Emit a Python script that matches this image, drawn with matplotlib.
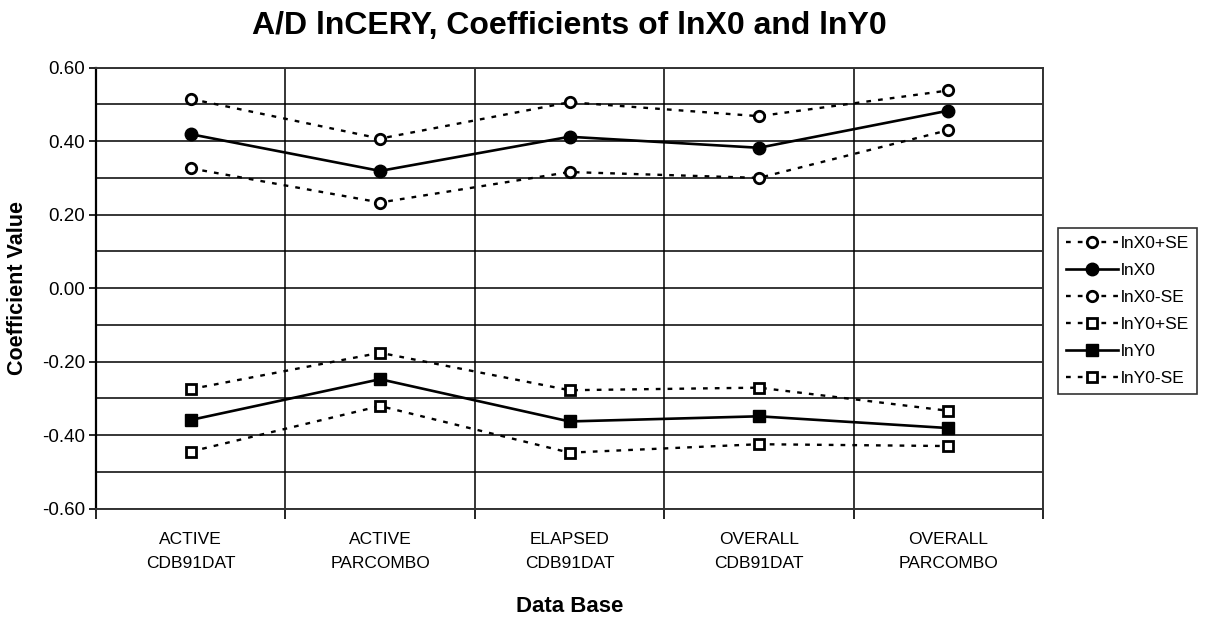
import numpy as np
import matplotlib
matplotlib.use("Agg")
import matplotlib.pyplot as plt
from matplotlib.ticker import MultipleLocator, FixedLocator

# categorias e valores
categorias = ["ACTIVE\nCDB91DAT", "ACTIVE\nPARCOMBO", "ELAPSED\nCDB91DAT",
              "OVERALL\nCDB91DAT", "OVERALL\nPARCOMBO"]
lnx0_mais_se = [0.515, 0.407, 0.506, 0.468, 0.538]
lnx0 = [0.419, 0.319, 0.412, 0.382, 0.483]
lnx0_menos_se = [0.326, 0.233, 0.316, 0.300, 0.430]
lny0_mais_se = [-0.275, -0.176, -0.278, -0.271, -0.334]
lny0 = [-0.359, -0.248, -0.363, -0.349, -0.381]
lny0_menos_se = [-0.445, -0.321, -0.448, -0.425, -0.430]

plt.rcParams['font.family'] = ['Liberation Sans', 'DejaVu Sans']

fig = plt.figure(figsize=(12.05, 6.23), dpi=100)
ax = fig.add_axes([96 / 1205, 1 - 508.5 / 623, (1043 - 96) / 1205, (508.5 - 67.7) / 623])

x = np.arange(len(categorias))
pontilhado = (0, (2, 3))

ax.plot(x, lnx0_mais_se, color="black", lw=1.7, ls=pontilhado, marker="o", ms=7.5,
        mfc="white", mec="black", mew=2, label="lnX0+SE")
ax.plot(x, lnx0, color="black", lw=1.9, ls="-", marker="o", ms=9,
        mfc="black", mec="black", label="lnX0")
ax.plot(x, lnx0_menos_se, color="black", lw=1.7, ls=pontilhado, marker="o", ms=7.5,
        mfc="white", mec="black", mew=2, label="lnX0-SE")
ax.plot(x, lny0_mais_se, color="black", lw=1.7, ls=pontilhado, marker="s", ms=7,
        mfc="white", mec="black", mew=2, label="lnY0+SE")
ax.plot(x, lny0, color="black", lw=1.9, ls="-", marker="s", ms=8.5,
        mfc="black", mec="black", label="lnY0")
ax.plot(x, lny0_menos_se, color="black", lw=1.7, ls=pontilhado, marker="s", ms=7,
        mfc="white", mec="black", mew=2, label="lnY0-SE")

ax.set_xlim(-0.5, len(categorias) - 0.5)
ax.set_ylim(-0.6, 0.6)

# eixo y
ax.yaxis.set_major_locator(MultipleLocator(0.2))
ax.yaxis.set_minor_locator(MultipleLocator(0.1))
ax.set_yticklabels([f"{v:.2f}" for v in ax.get_yticks()])
ax.tick_params(axis="y", which="major", direction="out", length=5, width=1.2,
               labelsize=13.5, pad=3)
ax.tick_params(axis="y", which="minor", length=0)

# eixo x
ax.set_xticks(x)
ax.set_xticklabels(categorias, fontsize=12.5, linespacing=1.7)
ax.xaxis.set_minor_locator(FixedLocator(np.arange(-0.5, len(categorias), 1.0)))
ax.tick_params(axis="x", which="major", length=0, pad=17)
ax.tick_params(axis="x", which="minor", direction="out", length=7, width=1.2)

ax.grid(which="both", axis="y", color="black", lw=1.1)
ax.grid(which="minor", axis="x", color="black", lw=1.1)
ax.set_axisbelow(True)

for lado in ["top", "right", "bottom"]:
    ax.spines[lado].set_linestyle((0, (1, 1)))
    ax.spines[lado].set_linewidth(1.4)
    ax.spines[lado].set_color("#333333")
ax.spines["left"].set_linewidth(1.6)

ax.set_title("A/D lnCERY, Coefficients of lnX0 and lnY0", fontsize=23,
             fontweight="bold", pad=24)
ax.set_ylabel("Coefficient Value", fontsize=15.5, fontweight="bold", labelpad=10)
ax.set_xlabel("Data Base", fontsize=16, fontweight="bold", labelpad=18)

leg = fig.legend(loc="upper left", bbox_to_anchor=(1058 / 1205, 1 - 228 / 623),
                 borderaxespad=0, frameon=True, fancybox=False, handlelength=3.0,
                 handletextpad=0.2, labelspacing=0.68, borderpad=0.45,
                 prop={"size": 12.5})
leg.get_frame().set_edgecolor("black")
leg.get_frame().set_linewidth(1.2)

fig.savefig("out.png", dpi=100)
